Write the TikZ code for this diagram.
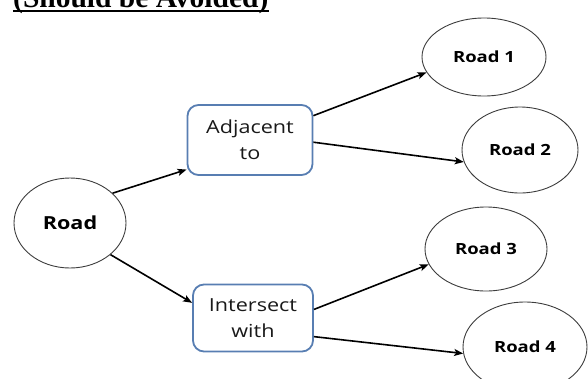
\documentclass[tikz,border=0pt]{standalone}
\usepackage{fontspec}
\setmainfont{Liberation Serif}
\newfontfamily\labelfont[FakeStretch=1.2]{Open Sans}
\usepackage{tikz}
\usetikzlibrary{shapes.geometric}
\usetikzlibrary{arrows.meta}
\definecolor{boxblue}{RGB}{88,126,178}
\definecolor{inkgray}{RGB}{60,60,60}
\tikzset{
    x=1pt, y=-1pt,
    road/.style={
        ellipse,
        draw=inkgray,
        line width=0.9pt,
        inner sep=0pt,
        font=\labelfont\bfseries
    },
    relation/.style={
        rectangle,
        rounded corners=11pt,
        draw=boxblue,
        line width=1.8pt,
        align=center,
        inner sep=0pt,
        text=black!90,
        font=\labelfont\fontsize{18}{26}\selectfont
    },
    every edge/.append style={
        draw,
        ->,>={Stealth[length=9pt,width=7pt,inset=2pt]},
        line width=1.6pt
    }
}

\begin{document}
\begin{tikzpicture}
    \useasboundingbox (0,0) rectangle (588,378);
    \node[anchor=base west, inner sep=0pt, font=\fontsize{29.5}{32}\selectfont\bfseries] (title) at (13,7) {(Should be Avoided)};
    \draw[line width=2.4pt] ([yshift=-4pt]title.base west) -- ([yshift=-4pt]title.base east);

    \node[road, minimum width=112pt, minimum height=90pt, font=\labelfont\bfseries\fontsize{18}{20}\selectfont] (road) at (70,223) {Road};
    \node[relation, minimum width=125pt, minimum height=70pt] (adj) at (250,140) {Adjacent\\to};
    \node[relation, minimum width=120pt, minimum height=67pt] (isect) at (253,318) {Intersect\\with};
    \node[road, minimum width=124pt, minimum height=78pt, font=\labelfont\bfseries\fontsize{15.4}{18}\selectfont] (road1) at (484,57) {Road 1};
    \node[road, minimum width=116pt, minimum height=86pt, font=\labelfont\bfseries\fontsize{15.4}{18}\selectfont] (road2) at (520,150) {Road 2};
    \node[road, minimum width=122pt, minimum height=84pt, font=\labelfont\bfseries\fontsize{15.4}{18}\selectfont] (road3) at (486,249) {Road 3};
    \node[road, minimum width=124pt, minimum height=90pt, font=\labelfont\bfseries\fontsize{15.4}{18}\selectfont] (road4) at (525,347) {Road 4};

    \draw (road.35) edge (adj.205)
        (road.-38) edge (isect.166);
    \draw (adj.21) edge (road1.195)
        (adj.-2) edge (road2.192);
    \draw (isect.8) edge (road3.195)
        (isect.-17) edge (road4.186);
\end{tikzpicture}
\end{document}
